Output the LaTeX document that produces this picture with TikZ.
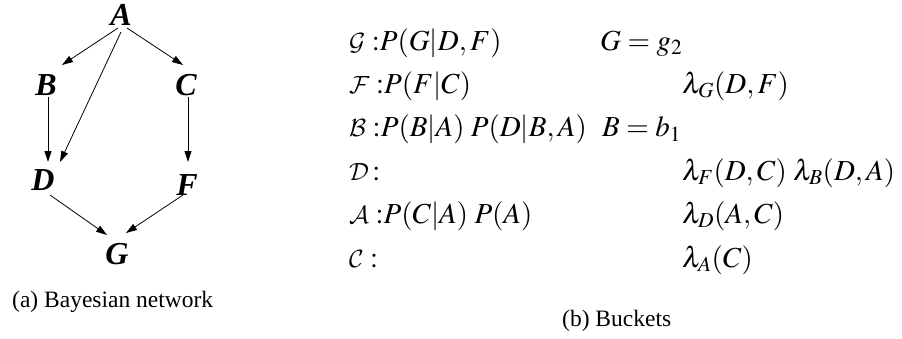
\documentclass[tikz,border=0pt]{standalone}
\usepackage{mathptmx}
\DeclareMathAlphabet{\mathcal}{OMS}{cmsy}{m}{n}
\usepackage[no-math]{fontspec}
\setmainfont{Liberation Serif}
\usetikzlibrary{arrows.meta}
\begin{document}
\begin{tikzpicture}[x=1pt,y=-1pt,
  vnode/.style={inner sep=0pt,font=\fontsize{32}{36}\selectfont\bfseries\itshape},
  arr/.style={-{Triangle[length=11pt,width=7pt]},line width=0.8pt},
  row/.style={anchor=base west,inner sep=0pt,font=\fontsize{29}{35}\selectfont},
  captext/.style={anchor=base west,inner sep=0pt,font=\fontsize{23.5}{28}\selectfont}]
\useasboundingbox (0,0) rectangle (902,338);
% Bayesian network
\node[vnode] (A) at (121,15) {A};
\node[vnode] (B) at (46,85) {B};
\node[vnode] (C) at (186,85) {C};
\node[vnode] (D) at (43,180) {D};
\node[vnode] (F) at (187,185) {F};
\node[vnode] (G) at (117,254) {G};
\draw[arr] ([shift={(-3,13)}]A.center) -- ([shift={(16,-20)}]B.center);
\draw[arr] ([shift={(6,13)}]A.center) -- ([shift={(-3,-20)}]C.center);
\draw[arr] ([shift={(0,17)}]A.center) -- ([shift={(17,-18)}]D.center);
\draw[arr] ([shift={(2,12)}]B.center) -- ([shift={(5,-18)}]D.center);
\draw[arr] ([shift={(2,12)}]C.center) -- ([shift={(1,-23)}]F.center);
\draw[arr] ([shift={(7,15)}]D.center) -- ([shift={(-10,-19)}]G.center);
\draw[arr] ([shift={(-4,10)}]F.center) -- ([shift={(9,-21)}]G.center);
\node[captext] (capa) at (12,307) {(a) Bayesian network};
% Buckets
\node[row] (r1) at (349,50) {$\mathcal{G}\;{:}P(G|D,F)$};
\node[row] (r2) at (349,93.4) {$\mathcal{F}\;{:}P(F|C)$};
\node[row] (r3) at (349,136.8) {$\mathcal{B}\;{:}P(B|A)\;P(D|B,A)$};
\node[row] (r4) at (349,180.2) {$\mathcal{D}\,{:}$};
\node[row] (r5) at (349,223.6) {$\mathcal{A}\;{:}P(C|A)\;P(A)$};
\node[row] (r6) at (349,267) {$\mathcal{C}\;{:}$};
\node[row] (e1) at (600,50) {$G=g_2$};
\node[row] (e3) at (602,136.8) {$B=b_1$};
\node[row] (l2) at (682,93.4) {$\lambda_G(D,F)$};
\node[row] (l4) at (682,180.2) {$\lambda_F(D,C)\;\lambda_B(D,A)$};
\node[row] (l5) at (682,223.6) {$\lambda_D(A,C)$};
\node[row] (l6) at (682,267) {$\lambda_A(C)$};
\node[captext] (capb) at (562,326) {(b) Buckets};
\end{tikzpicture}
\end{document}
